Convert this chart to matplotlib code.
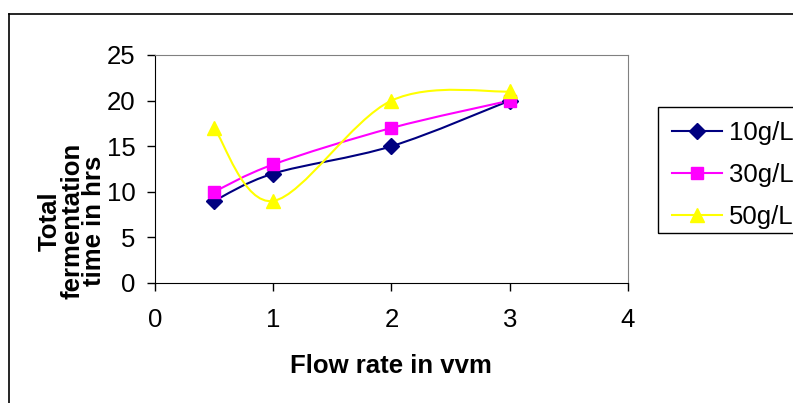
import matplotlib.pyplot as plt
from matplotlib.path import Path
from matplotlib.patches import PathPatch, Rectangle
from matplotlib.lines import Line2D
import numpy as np

plt.rcParams['font.family'] = ['Liberation Sans', 'DejaVu Sans']

flow = [0.5, 1, 2, 3]
g10 = [9, 12, 15, 20]
g30 = [10, 13, 17, 20]
g50 = [17, 9, 20, 21]
labels = ['10g/L', '30g/L', '50g/L']


def smooth_path(x, y):
    # excel style smoothing, bezier through the points
    pts = np.column_stack([x, y]).astype(float)
    n = len(pts)
    verts = [pts[0]]
    codes = [Path.MOVETO]
    for i in range(n - 1):
        p0 = pts[i - 1] if i > 0 else pts[i]
        p1 = pts[i]
        p2 = pts[i + 1]
        p3 = pts[i + 2] if i + 2 < n else pts[i + 1]
        c1 = p1 + (p2 - p0) / 6
        c2 = p2 - (p3 - p1) / 6
        verts += [c1, c2, p2]
        codes += [Path.CURVE4] * 3
    return Path(verts, codes)


fig = plt.figure(figsize=(7.93, 4.03), dpi=100)
ax = fig.add_axes([155/793, 1 - 283/403, 473/793, 228/403])

series = [(g10, '#000080', 'D', 8), (g30, '#FF00FF', 's', 9), (g50, '#FFFF00', '^', 10)]
handles = []
for (vals, col, mk, ms), lab in zip(series, labels):
    ax.add_patch(PathPatch(smooth_path(flow, vals), fill=False, edgecolor=col, lw=1.5))
    ax.plot(flow, vals, linestyle='none', marker=mk, color=col, ms=ms)
    handles.append(Line2D([], [], color=col, lw=1.5, marker=mk, ms=ms))

ax.set_xlim(0, 4)
ax.set_ylim(0, 25)
ax.set_xticks([0, 1, 2, 3, 4])
ax.set_yticks([0, 5, 10, 15, 20, 25])
ax.tick_params(axis='x', labelsize=18.5, length=6, width=1, pad=12, direction='out')
ax.tick_params(axis='y', labelsize=18.5, length=6, width=1, pad=8, direction='out')
for s in ['top', 'right']:
    ax.spines[s].set_color('#808080')
for s in ['left', 'bottom']:
    ax.spines[s].set_color('black')

fig.text(391/793, 1 - 366/403, 'Flow rate in vvm', fontsize=18.5, fontweight='bold',
         ha='center', va='center')
fig.text(72/793, 1 - 221/403, 'Total\nfermentation\ntime in hrs', fontsize=18.5,
         fontweight='bold', rotation=90, ha='center', va='center', linespacing=0.9)

leg = fig.legend(handles, labels, loc='upper left', bbox_to_anchor=(658/793, 1 - 107/403),
                 fontsize=18.5, frameon=False,
                 handlelength=1.95, handletextpad=0.25, labelspacing=0.7,
                 borderpad=0.55, borderaxespad=0)
# legend box, runs off the right edge like the original
fig.add_artist(Rectangle((658/793, 1 - 233/403), 0.3, 126/403, transform=fig.transFigure,
                         fill=False, edgecolor='black', lw=1))

# outer chart border
fig.add_artist(Line2D([9/793, 9/793], [0, 1 - 14/403], color='black', lw=1.2))
fig.add_artist(Line2D([9/793, 1], [1 - 14/403, 1 - 14/403], color='black', lw=1.2))

fig.savefig('out.png', dpi=100)
